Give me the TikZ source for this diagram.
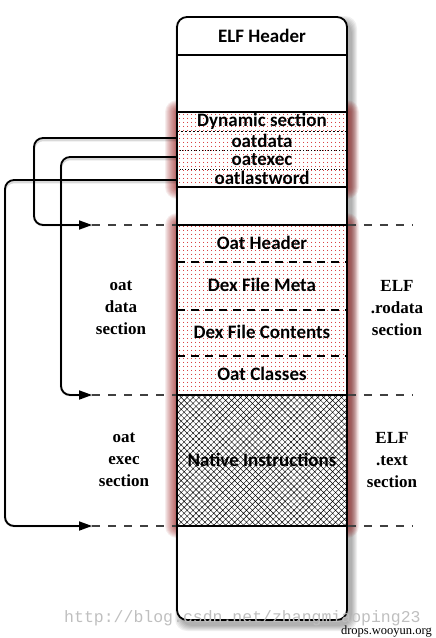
\documentclass[tikz,border=0pt]{standalone}
\usepackage{fontspec}
\setmainfont{Liberation Serif}
\newfontfamily\calfont{Carlito}
\newfontfamily\wmfont{Liberation Mono}
\usetikzlibrary{patterns.meta,arrows.meta,calc}
\newcommand\myglow[4]{%
  \foreach \k in {1,...,12}{%
    \fill[red!55!black, opacity=0.07, rounded corners=\k pt] ($(#1,#2)+(-\k,-\k)$) rectangle ($(#3,#4)+(\k,\k)$);}}
\begin{document}
\begin{tikzpicture}[x=1pt,y=-1pt,
 boxtxt/.style={font=\calfont\bfseries\fontsize{19}{21}\selectfont, inner sep=0pt},
 rowbox/.style={minimum width=170pt, minimum height=19pt, inner sep=0pt, font=\calfont\bfseries\fontsize{19}{21}\selectfont},
 sidetxt/.style={font=\bfseries\fontsize{17}{22}\selectfont, align=center},
 conn/.style={line width=1.8pt, rounded corners=9pt, -{Triangle[length=13pt,width=9pt]}},
 connshadow/.style={line width=2.5pt, rounded corners=9pt, draw=black, opacity=0.15},
 guide/.style={line width=1.4pt, dash pattern=on 8pt off 8pt, draw=black!75},
 secdash/.style={line width=1.4pt, dash pattern=on 8pt off 6pt},
 dotfill/.style={pattern={Dots[radius=0.6pt,distance=4pt]}, pattern color=red!80!black},
]
\useasboundingbox (0,0) rectangle (436,638);
% main box shadow
\foreach \k in {1,...,6}{\fill[black, opacity=0.06, rounded corners=12pt] ($(177,17)+(4-\k,5-\k)$) rectangle ($(347,620)+(4+\k,5+\k)$);}
% red glows
\myglow{177}{112}{347}{187}
\myglow{177}{225}{347}{526}
% main box
\node[draw, line width=1.8pt, rounded corners=10pt, minimum width=170pt, minimum height=603pt, fill=white, inner sep=0pt] (elf) at (262,318.5) {};
\node[boxtxt] (hdr) at (262,36) {ELF Header};
\draw[line width=1.5pt] (elf.west |- 0,55) -- (elf.east |- 0,55);
% dynamic area
\fill[white] (177,112) rectangle (347,187);
\fill[dotfill] (177,112) rectangle (347,187);
\node[rowbox] (dyn) at (262,121.5) {Dynamic section};
\node[rowbox] (odata) at (262,140.5) {oatdata};
\node[rowbox] (oexec) at (262,159.5) {oatexec};
\node[rowbox] (olast) at (262,178) {oatlastword};
\draw[line width=1.2pt, dash pattern=on 2.5pt off 1.5pt] (dyn.south west) -- (dyn.south east);
\draw[line width=0.8pt, dotted] (odata.south west) -- (odata.south east);
\draw[line width=0.8pt, dotted] (oexec.south west) -- (oexec.south east);
\draw[line width=1.8pt] (177,112) rectangle (347,187);
% oat data area
\fill[white] (177,225) rectangle (347,395);
\fill[dotfill] (177,225) rectangle (347,395);
\fill[white] (177,395) rectangle (347,526);
\fill[pattern={Hatch[angle=45,distance=4.2pt,line width=0.45pt]}, pattern color=black] (177,395) rectangle (347,526);
\draw[secdash] (177,262) -- (347,262);
\draw[secdash] (177,310) -- (347,310);
\draw[secdash] (177,356) -- (347,356);
\draw[line width=1.8pt] (177,225) rectangle (347,526);
\draw[line width=1.5pt] (177,395) -- (347,395);
\node[boxtxt] (ohdr) at (262,243) {Oat Header};
\node[boxtxt] (dmeta) at (262,285) {Dex File Meta};
\node[boxtxt] (dcont) at (262,332) {Dex File Contents};
\node[boxtxt] (ocls) at (262,374) {Oat Classes};
\node[boxtxt] (nat) at (262,460) {Native Instructions};
% coordinates for connectors
\coordinate (ca) at (34,225);  \coordinate (ta) at (92,225);
\coordinate (cb) at (61,395);  \coordinate (tb) at (92,395);
\coordinate (cc) at (5,526);   \coordinate (tc) at (92,526);
\coordinate (ra) at (412,225); \coordinate (rb) at (412,395); \coordinate (rc) at (412,526);
% guide lines
\draw[guide] (ta) -- (ta -| elf.west);
\draw[guide] (tb) -- (tb -| elf.west);
\draw[guide] (tc) -- (tc -| elf.west);
\draw[guide] (ra -| elf.east) -- (ra);
\draw[guide] (rb -| elf.east) -- (rb);
\draw[guide] (rc -| elf.east) -- (rc);
% connectors
\begin{scope}[shift={(2,2)}]
\draw[connshadow] (odata.west |- 0,138) -| (ca) -- (ta);
\draw[connshadow] (oexec.west |- 0,157) -| (cb) -- (tb);
\draw[connshadow] (olast.west |- 0,180) -| (cc) -- (tc);
\end{scope}
\draw[conn] (odata.west |- 0,138) -| (ca) -- (ta);
\draw[conn] (oexec.west |- 0,157) -| (cb) -- (tb);
\draw[conn] (olast.west |- 0,180) -| (cc) -- (tc);
% side labels
\node[sidetxt] (ldata) at (121,308) {oat\\data\\section};
\node[sidetxt] (rdata) at (397,308) {ELF\\.rodata\\section};
\node[sidetxt] (lexec) at (124,460) {oat\\exec\\section};
\node[sidetxt] (rexec) at (392,460) {ELF\\.text\\section};
% watermarks
\node[font=\wmfont\fontsize{16.5}{18}\selectfont, text=black!25, anchor=base west, inner sep=0pt] (wm) at (64,622) {http://blog.csdn.net/zhangmiaoping23};
\node[font=\fontsize{12.5}{14}\selectfont, anchor=base east, inner sep=0pt] (wm2) at (432,634) {drops.wooyun.org};
\end{tikzpicture}
\end{document}
